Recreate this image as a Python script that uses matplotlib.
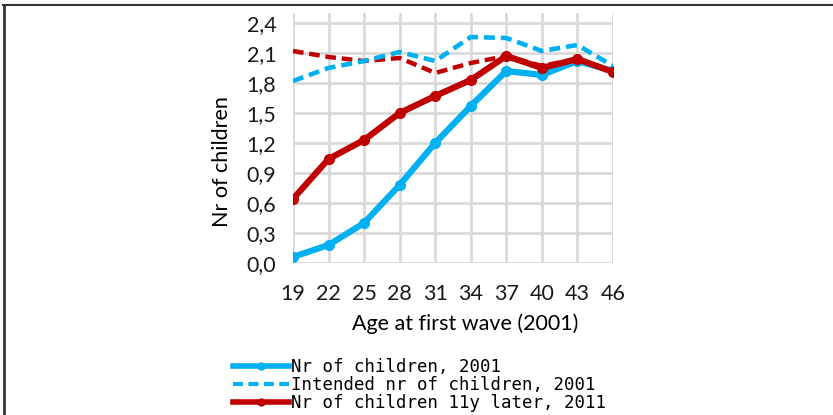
import matplotlib
matplotlib.use("Agg")
import matplotlib.pyplot as plt
from matplotlib.lines import Line2D
from matplotlib.ticker import FixedLocator, FuncFormatter

# -----------------------------
# DATA
# -----------------------------
ages = [19, 22, 25, 28, 31, 34, 37, 40, 43, 46]
children_2001 = [0.06, 0.18, 0.40, 0.78, 1.20, 1.57, 1.92, 1.88, 2.02, 1.92]
intended_2001 = [1.82, 1.95, 2.02, 2.11, 2.02, 2.26, 2.25, 2.12, 2.18, 1.97]
children_2011 = [0.64, 1.04, 1.23, 1.50, 1.67, 1.83, 2.07, 1.95, 2.04, 1.91]
intended_2011 = [2.12, 2.06, 2.02, 2.05, 1.90, 2.00, 2.07, 1.97, 2.04, 1.92]
y_ticks = [0.0, 0.3, 0.6, 0.9, 1.2, 1.5, 1.8, 2.1, 2.4]

BLUE = "#00B0F0"
RED = "#C00000"
FONT = ["Lato", "DejaVu Sans"]

plt.rcParams['font.family'] = FONT

fig = plt.figure(figsize=(8.33, 4.15), dpi=100)
ax = fig.add_axes([0.3517, 0.3663, 0.3842, 0.6024])

x = list(range(len(ages)))
dash = (0, (2.4, 1.3))

ax.plot(x, intended_2011, color=RED, lw=3.2, ls=dash, zorder=3)
ax.plot(x, intended_2001, color=BLUE, lw=3.3, ls=dash, zorder=3)
ax.plot(x, children_2001, color=BLUE, lw=4.5, marker='o', ms=7, zorder=4)
ax.plot(x, children_2011, color=RED, lw=4.5, marker='o', ms=7, zorder=5)

ax.set_xlim(0, len(ages) - 1)
ax.set_ylim(0, 2.5)
ax.xaxis.set_major_locator(FixedLocator(x))
ax.set_xticklabels([str(a) for a in ages])
ax.yaxis.set_major_locator(FixedLocator(y_ticks))
ax.yaxis.set_major_formatter(FuncFormatter(lambda v, p: f"{v:.1f}".replace(".", ",")))

ax.grid(True, color="#D9D9D9", lw=2)
ax.set_axisbelow(True)
for s in ax.spines.values():
    s.set_visible(False)
ax.tick_params(length=0, labelsize=15.5, colors="#1a1a1a")
ax.tick_params(axis='x', pad=15)
ax.tick_params(axis='y', pad=12)

ax.set_xlabel("Age at first wave (2001)", fontsize=15.5)
ax.set_ylabel("Nr of children", fontsize=15.5)
ax.xaxis.set_label_coords(0.538, -0.2)
ax.yaxis.set_label_coords(-0.19, 0.404)

handles = [
    Line2D([], [], color=BLUE, lw=4, marker='o', ms=5, markevery=[1]),
    Line2D([], [], color=BLUE, lw=3, ls=dash),
    Line2D([], [], color=RED, lw=4, marker='o', ms=5, markevery=[1]),
]
labels = ["Nr of children, 2001", "Intended nr of children, 2001",
          "Nr of children 11y later, 2011"]
fig.legend(handles, labels, loc="upper left", bbox_to_anchor=(0.28, 0.138),
           frameon=False, prop={'family': 'DejaVu Sans Mono', 'size': 12.5},
           handlelength=3.2, handletextpad=0.1,
           labelspacing=0.02, borderpad=0, borderaxespad=0)

# frame lines (top and left)
fig.add_artist(Line2D([3 / 833, 1], [1 - 5 / 415, 1 - 5 / 415],
                      transform=fig.transFigure, color="#333333", lw=1.5))
fig.add_artist(Line2D([4 / 833, 4 / 833], [0, 1 - 5 / 415],
                      transform=fig.transFigure, color="#333333", lw=2))

fig.savefig("out.png", dpi=100)
